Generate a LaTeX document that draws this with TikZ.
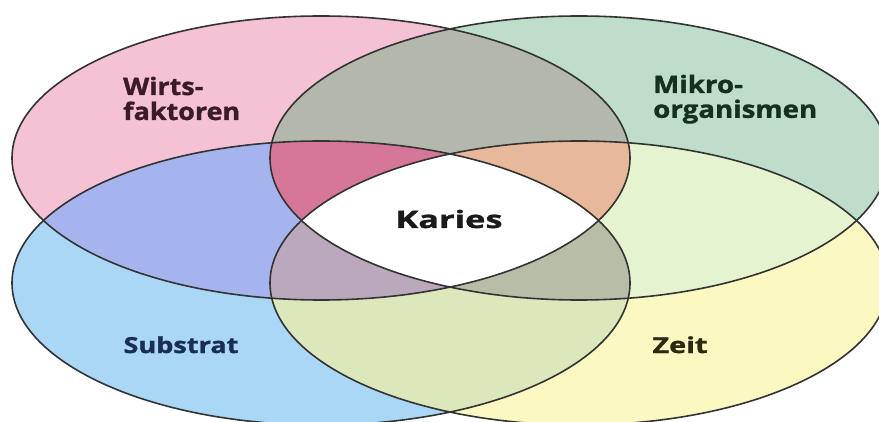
\documentclass[tikz,border=0pt]{standalone}
\usepackage{fontspec}
\setmainfont{Open Sans}[BoldFeatures={FakeBold=1.2}]
\usepackage{graphicx}
\definecolor{cP}{HTML}{F4C1D5}
\definecolor{cG}{HTML}{BEDECB}
\definecolor{cB}{HTML}{A9D7F5}
\definecolor{cY}{HTML}{FBF8C2}
\definecolor{cPG}{HTML}{B4B7AB}
\definecolor{cPB}{HTML}{A6B4EE}
\definecolor{cGY}{HTML}{E6F3D0}
\definecolor{cBY}{HTML}{DCE8BC}
\definecolor{cPGB}{HTML}{D6779A}
\definecolor{cPGY}{HTML}{E8B89A}
\definecolor{cPBY}{HTML}{BCA8BC}
\definecolor{cGBY}{HTML}{B8BDA8}
\definecolor{lineC}{HTML}{333333}
\definecolor{tP}{HTML}{3B1A2A}
\definecolor{tG}{HTML}{15301F}
\definecolor{tB}{HTML}{1A2E55}
\definecolor{tY}{HTML}{2A2A12}
\definecolor{tK}{HTML}{1A1A1A}
\newcommand\Pell{(321,263) ellipse [x radius=309pt, y radius=142pt]}
\newcommand\Gell{(579,263) ellipse [x radius=309pt, y radius=142pt]}
\newcommand\Bell{(321,138) ellipse [x radius=309pt, y radius=142pt]}
\newcommand\Yell{(579,138) ellipse [x radius=309pt, y radius=142pt]}
\newcommand\twolines[3]{\resizebox{#1}{\height}{\begin{tabular}[t]{@{}l@{}}#2\\#3\end{tabular}}}
\newcommand\oneline[2]{\resizebox{#1}{\height}{#2}}
\tikzset{
  outline/.style={draw=lineC, line width=1.6pt},
  lbl/.style={inner sep=0pt, font=\fontsize{24}{22}\selectfont\bfseries},
  lblsm/.style={inner sep=0pt, font=\fontsize{22}{22}\selectfont\bfseries},
}
\begin{document}
\begin{tikzpicture}[x=1pt,y=1pt]
\useasboundingbox (0,0) rectangle (879,421);
\fill[white] (0,0) rectangle (879,421);
\begin{scope}
\clip (0,0) rectangle (879,421);
\fill[cP] \Pell;
\fill[cG] \Gell;
\fill[cB] \Bell;
\fill[cY] \Yell;
\begin{scope}\clip \Pell; \fill[cPG] \Gell;\end{scope}
\begin{scope}\clip \Pell; \fill[cPB] \Bell;\end{scope}
\begin{scope}\clip \Gell; \fill[cGY] \Yell;\end{scope}
\begin{scope}\clip \Bell; \fill[cBY] \Yell;\end{scope}
\begin{scope}\clip \Pell; \clip \Gell; \fill[cPGB] \Bell;\end{scope}
\begin{scope}\clip \Pell; \clip \Gell; \fill[cPGY] \Yell;\end{scope}
\begin{scope}\clip \Pell; \clip \Bell; \fill[cPBY] \Yell;\end{scope}
\begin{scope}\clip \Gell; \clip \Bell; \fill[cGBY] \Yell;\end{scope}
\begin{scope}\clip \Pell; \clip \Gell; \clip \Bell; \fill[white] \Yell;\end{scope}
\draw[outline] \Pell;
\draw[outline] \Gell;
\draw[outline] \Bell;
\draw[outline] \Yell;
\end{scope}
\node[lbl, text=tP, anchor=base west] (wirts) at (123,326) {\twolines{117pt}{Wirts-}{faktoren}};
\node[lbl, text=tG, anchor=base west] (mikro) at (653,328) {\twolines{164pt}{Mikro-}{organismen}};
\node[lbl, text=tK, anchor=base] (karies) at (449,193) {\oneline{107pt}{Karies}};
\node[lblsm, text=tB, anchor=base] (substrat) at (181,68) {\oneline{115pt}{Substrat}};
\node[lblsm, text=tY, anchor=base] (zeit) at (680,68) {\oneline{55pt}{Zeit}};
\end{tikzpicture}
\end{document}
